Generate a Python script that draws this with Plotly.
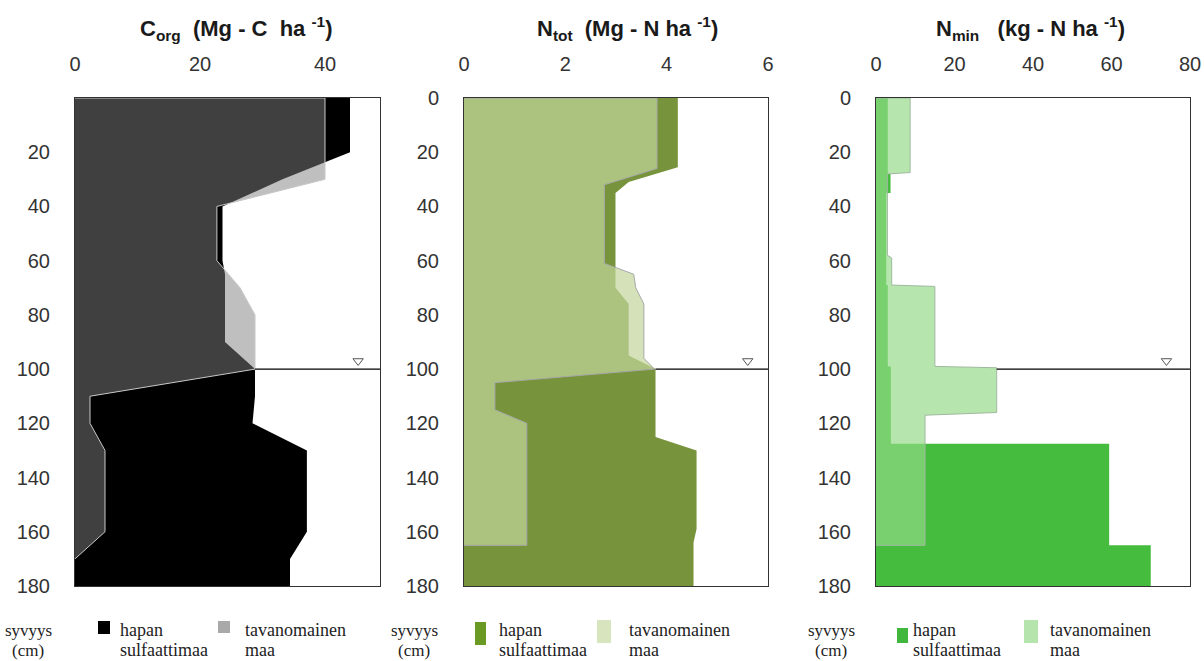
import plotly.graph_objects as go

W, H = 1204, 661

# ---------------- data (depth in cm, values per unit of each panel) ----------------
depth_ticks = [0, 20, 40, 60, 80, 100, 120, 140, 160, 180]

# Panel 1: C_org (Mg C / ha)
corg_hapan_depth = [0, 20, 30, 40, 60, 65, 90, 100, 110, 120, 130, 160, 170, 180]
corg_hapan = [44.0, 44.0, 33.2, 23.6, 23.6, 24.0, 24.0, 28.8, 28.8, 28.4, 37.1, 37.1, 34.4, 34.4]
corg_tav_depth = [0, 30, 40, 60, 70, 80, 100, 110, 120, 130, 160, 170]
corg_tav = [40.0, 40.0, 22.7, 22.7, 26.4, 28.8, 28.8, 2.4, 2.4, 4.8, 4.8, 0.0]

# Panel 2: N_tot (Mg N / ha)
ntot_hapan_depth = [0, 25.5, 31, 35, 70, 76, 95, 100, 125, 130, 159, 164, 180]
ntot_hapan = [4.22, 4.22, 3.25, 2.99, 2.99, 3.25, 3.25, 3.78, 3.78, 4.59, 4.59, 4.53, 4.53]
ntot_tav_depth = [0, 26, 32, 61, 65, 70, 76, 96, 100, 105, 115, 120, 165, 165]
ntot_tav = [3.81, 3.81, 2.77, 2.77, 3.35, 3.39, 3.55, 3.55, 3.76, 0.61, 0.61, 1.24, 1.24, 0.0]

# Panel 3: N_min (kg N / ha)
nmin_hapan_depth = [0, 28, 28, 35, 35, 69, 69, 99, 99, 127.5, 127.5, 165, 165, 180]
nmin_hapan = [3.0, 3.0, 3.7, 3.7, 2.6, 2.6, 3.0, 3.0, 3.8, 3.8, 59.4, 59.4, 70.0, 70.0]
nmin_tav_depth = [0, 27.5, 28, 58, 59, 69, 69.5, 99, 99.5, 116, 117, 165, 165]
nmin_tav = [8.7, 8.7, 2.9, 2.9, 4.0, 4.0, 15.0, 15.0, 30.75, 30.75, 12.5, 12.5, 0.0]

# water table (pohjavesi) at 100 cm, line starts at profile value
water_table_depth = 100
water_line_start = [28.8, 3.78, 30.75]
water_marker_x = [45.3, 5.6, 74.0]
water_marker_depth = 97

axis_max = [48.8, 6.0, 80.0]
axis_dtick = [20, 2, 20]

titles = [
    "<b>C<sub>org</sub></b>  <b>(Mg - C  ha <sup>-1</sup>)</b>",
    "<b>N<sub>tot</sub></b>  <b>(Mg - N ha <sup>-1</sup>)</b>",
    "<b>N<sub>min</sub></b>   <b>(kg - N ha <sup>-1</sup>)</b>",
]
legend_depth = ["syvyys", "(cm)"]
legend_hapan = ["hapan", "sulfaattimaa"]
legend_tav = ["tavanomainen", "maa"]

# ---------------- styling ----------------
hapan_fill = ["#000000", "#77933C", "#45BC3D"]
tav_fill = ["rgba(128,128,128,0.5)", "rgba(195,214,155,0.70)", "rgba(146,218,134,0.67)"]
tav_line = ["#C8C8C8", "#A8A8A8", "#A0B8A0"]
legend_hapan_col = ["#000000", "#6B9A24", "#3FB83D"]
legend_tav_col = ["#A9A9A9", "#D7E4BD", "#B5E4AD"]

# pixel geometry of plot areas
px_x = [(75, 380), (464, 768), (876, 1190)]
px_top, px_bot = 98, 586
title_cx = [236, 627, 1030]
leg_depth_cx = [28, 414, 831]
leg_hsq = [(98, 110, 621, 634), (475, 486, 622, 645), (897, 908, 628, 643)]
leg_htx = [118, 497, 911]
leg_tsq = [(218, 230, 621, 633), (597, 611, 620, 643), (1024, 1038, 620, 643)]
leg_ttx = [243, 627, 1048]

def fx(p):
    return p / W

def fy(p):
    return 1 - p / H

series = [
    (corg_hapan_depth, corg_hapan, corg_tav_depth, corg_tav),
    (ntot_hapan_depth, ntot_hapan, ntot_tav_depth, ntot_tav),
    (nmin_hapan_depth, nmin_hapan, nmin_tav_depth, nmin_tav),
]

fig = go.Figure()
tick_font = dict(family="Liberation Sans, Arial, sans-serif", size=20, color="#333333")
serif = "Liberation Serif, Times New Roman, serif"

annotations = []
shapes = []
for i, (hd, hv, td, tv) in enumerate(series):
    n = "" if i == 0 else str(i + 1)
    xa, ya = "x" + n, "y" + n
    # hapan sulfaattimaa
    fig.add_trace(go.Scatter(
        x=[0] + hv + [0], y=[hd[0]] + hd + [hd[-1]], xaxis=xa, yaxis=ya,
        mode="lines", fill="toself", fillcolor=hapan_fill[i],
        line=dict(width=0, color=hapan_fill[i]), showlegend=False, hoverinfo="skip"))
    # tavanomainen maa (translucent, on top)
    fig.add_trace(go.Scatter(
        x=[0] + tv + [0], y=[td[0]] + td + [td[-1]], xaxis=xa, yaxis=ya,
        mode="lines", fill="toself", fillcolor=tav_fill[i],
        line=dict(width=1, color=tav_line[i]), showlegend=False, hoverinfo="skip"))
    # water table line
    fig.add_trace(go.Scatter(
        x=[water_line_start[i], axis_max[i]], y=[water_table_depth, water_table_depth],
        xaxis=xa, yaxis=ya, mode="lines", line=dict(width=1.2, color="#000000"),
        showlegend=False, hoverinfo="skip"))
    fig.add_trace(go.Scatter(
        x=[water_marker_x[i]], y=[water_marker_depth], xaxis=xa, yaxis=ya, mode="markers",
        marker=dict(symbol="triangle-down-open", size=9, color="#555555", line=dict(width=1, color="#555555")),
        showlegend=False, hoverinfo="skip"))

    x0, x1 = px_x[i]
    fig.layout["xaxis" + n] = dict(
        domain=[fx(x0), fx(x1)], range=[0, axis_max[i]], side="top", anchor=ya,
        tick0=0, dtick=axis_dtick[i], showgrid=False, zeroline=False, automargin=False,
        showline=True, mirror=True, linecolor="#333333", linewidth=1,
        ticks="", ticklabelstandoff=18, tickfont=tick_font, fixedrange=True)
    yticks = depth_ticks[1:] if i == 0 else depth_ticks
    fig.layout["yaxis" + n] = dict(
        domain=[fy(px_bot), fy(px_top)], range=[180, 0], anchor=xa,
        tickvals=yticks, showgrid=False, zeroline=False, automargin=False,
        showline=True, mirror=True, linecolor="#333333", linewidth=1,
        ticks="outside", ticklen=11, tickcolor="rgba(0,0,0,0)",
        ticklabelstandoff=9, tickfont=tick_font, fixedrange=True)

    annotations.append(dict(
        x=fx(title_cx[i]), y=fy(29), xref="paper", yref="paper", text=titles[i],
        showarrow=False, xanchor="center", yanchor="middle",
        font=dict(family="Liberation Sans, Arial, sans-serif", size=22, color="#1a1a1a")))
    # legend
    for k, ypx in enumerate([630, 650]):
        annotations.append(dict(x=fx(leg_depth_cx[i]), y=fy(ypx), xref="paper", yref="paper",
                                text=legend_depth[k], showarrow=False, xanchor="center", yanchor="middle",
                                font=dict(family=serif, size=17, color="#222222")))
        annotations.append(dict(x=fx(leg_htx[i]), y=fy(ypx), xref="paper", yref="paper",
                                text=legend_hapan[k], showarrow=False, xanchor="left", yanchor="middle",
                                font=dict(family=serif, size=18, color="#222222")))
        annotations.append(dict(x=fx(leg_ttx[i]), y=fy(ypx), xref="paper", yref="paper",
                                text=legend_tav[k], showarrow=False, xanchor="left", yanchor="middle",
                                font=dict(family=serif, size=18, color="#222222")))
    a, b, c, d = leg_hsq[i]
    shapes.append(dict(type="rect", xref="paper", yref="paper", x0=fx(a), x1=fx(b), y0=fy(d), y1=fy(c),
                       fillcolor=legend_hapan_col[i], line=dict(width=0)))
    a, b, c, d = leg_tsq[i]
    shapes.append(dict(type="rect", xref="paper", yref="paper", x0=fx(a), x1=fx(b), y0=fy(d), y1=fy(c),
                       fillcolor=legend_tav_col[i], line=dict(width=0)))

fig.update_layout(
    width=W, height=H, margin=dict(l=0, r=0, t=0, b=0, autoexpand=False),
    paper_bgcolor="white", plot_bgcolor="white",
    annotations=annotations, shapes=shapes, showlegend=False)

fig.write_html("out.html", config={"displayModeBar": False},
               post_script="document.body.style.margin='0px';document.body.style.overflow='hidden';")
